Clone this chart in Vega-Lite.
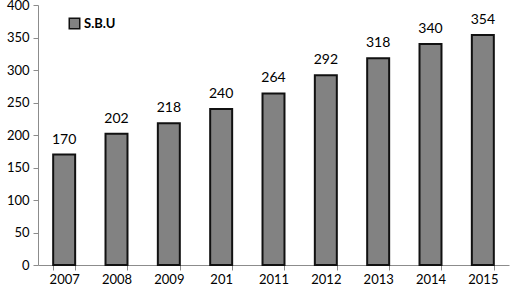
{
  "$schema": "https://vega.github.io/schema/vega-lite/v6.json",
  "width": 471,
  "height": 260,
  "autosize": {"type": "none"},
  "padding": {"left": 38, "top": 5, "right": 1, "bottom": 24},
  "background": "white",
  "config": {
    "view": {"stroke": null},
    "font": "Lato",
    "axis": {"labelFont": "Lato", "labelFontSize": 13, "labelColor": "#000", "domainColor": "#8c8c8c", "tickColor": "#8c8c8c", "grid": false}
  },
  "data": {
    "values": [
      {"year": "2007", "value": 170, "series": "S.B.U"},
      {"year": "2008", "value": 202, "series": "S.B.U"},
      {"year": "2009", "value": 218, "series": "S.B.U"},
      {"year": "201", "value": 240, "series": "S.B.U"},
      {"year": "2011", "value": 264, "series": "S.B.U"},
      {"year": "2012", "value": 292, "series": "S.B.U"},
      {"year": "2013", "value": 318, "series": "S.B.U"},
      {"year": "2014", "value": 340, "series": "S.B.U"},
      {"year": "2015", "value": 354, "series": "S.B.U"}
    ]
  },
  "encoding": {
    "x": {
      "field": "year", "type": "nominal", "sort": null,
      "scale": {"paddingInner": 0.58, "paddingOuter": 0.29},
      "axis": {"title": null, "labelAngle": 0, "tickBand": "extent", "tickSize": 5, "labelPadding": 3}
    },
    "y": {
      "field": "value", "type": "quantitative",
      "scale": {"domain": [0, 400], "nice": false},
      "axis": {"title": null, "values": [0, 50, 100, 150, 200, 250, 300, 350, 400], "tickSize": 5, "labelPadding": 4}
    }
  },
  "layer": [
    {
      "mark": {"type": "bar", "stroke": "#111", "strokeWidth": 2},
      "encoding": {
        "color": {
          "field": "series", "type": "nominal",
          "scale": {"range": ["#828282"]},
          "legend": {
            "title": null, "orient": "none", "legendX": 30, "legendY": 12,
            "symbolType": "square", "symbolSize": 110, "symbolStrokeColor": "#111", "symbolStrokeWidth": 1.5,
            "labelFontSize": 13, "labelFontWeight": "bold", "labelFont": "Lato", "labelOffset": 3
          }
        }
      }
    },
    {
      "mark": {"type": "text", "dy": -15, "fontSize": 14, "font": "Lato", "color": "#000"},
      "encoding": {"text": {"field": "value", "type": "quantitative"}}
    }
  ]
}
